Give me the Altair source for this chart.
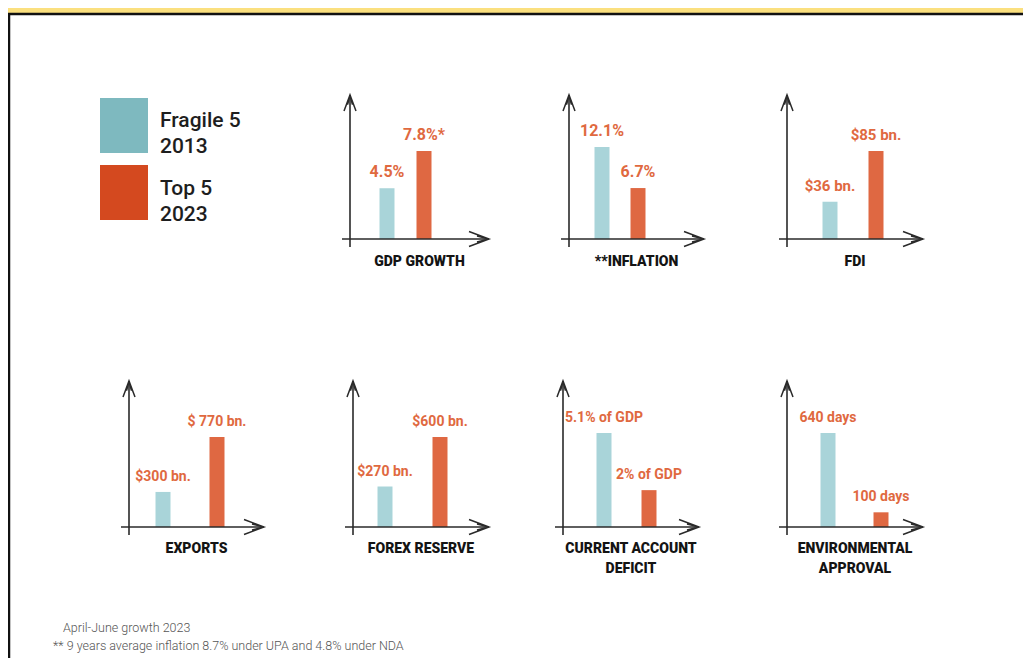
import altair as alt
import pandas as pd

# ---------------- data ----------------
series = ["Fragile 5 2013", "Top 5 2023"]
legend_text = ["Fragile 5\n2013", "Top 5\n2023"]
metrics = ["GDP GROWTH", "**INFLATION", "FDI", "EXPORTS", "FOREX RESERVE",
           "CURRENT ACCOUNT\nDEFICIT", "ENVIRONMENTAL\nAPPROVAL"]
fragile_values = [4.5, 12.1, 36, 300, 270, 5.1, 640]
top_values = [7.8, 6.7, 85, 770, 600, 2, 100]
fragile_labels = ["4.5%", "12.1%", "$36 bn.", "$300 bn.", "$270 bn.", "5.1% of GDP", "640 days"]
top_labels = ["7.8%*", "6.7%", "$85 bn.", "$ 770 bn.", "$600 bn.", "2% of GDP", "100 days"]
footnotes = ["April-June growth 2023",
             "** 9 years average inflation 8.7% under UPA and 4.8% under NDA"]

# ---------------- layout (pixels) ----------------
W, H = 1015, 650
axis_x = [342, 561, 779, 121, 345, 555, 779]
axis_base = [231, 231, 231, 519, 519, 519, 519]
axis_tip = [87, 87, 87, 373, 373, 373, 373]
axis_end = [481, 696, 915, 256, 481, 691, 915]
bar_c1 = [379, 594, 822, 155, 377, 596, 820]
bar_c2 = [416, 630, 868, 209, 432, 641, 873]
bar_hmax = [88, 92, 88, 90, 90, 94, 94]
title_top = [247, 247, 247, 534, 534, 534, 534]
label_size = [16, 16, 15, 14, 14, 14, 14]
foot_x = [55, 45]
foot_y = [620, 638]

# ---------------- style ----------------
BG = "#fbe07f"
AX = "#2a2a2a"
BAR_BLUE, BAR_ORANGE = "#a9d4d9", "#df6842"
LEG_BLUE, LEG_ORANGE = "#7eb9bf", "#d4491f"
LABEL_ORANGE = "#e0693f"
FONT = "Roboto"

RIGHT_HEAD = "M-1,-0.75L1,0L-1,0.75M-0.2,-0.3L1,0L-0.2,0.3"
UP_HEAD = "M-0.75,1L0,-1L0.75,1M-0.3,0.2L0,-1L0.3,0.2"

one = pd.DataFrame({"k": [0]})

frame = alt.Chart(one).mark_rect(fill="white", stroke="#111111", strokeWidth=2.5).encode(
    x=alt.value(1), x2=alt.value(W + 30), y=alt.value(6), y2=alt.value(H + 30)
)

# legend
leg_df = pd.DataFrame({"series": series, "text": legend_text})
leg_y = alt.Y("series:N", scale=alt.Scale(domain=series, range=[90, 212],
                                          paddingInner=0.18, paddingOuter=0), axis=None)
leg_rect = alt.Chart(leg_df).mark_rect().encode(
    x=alt.value(92), x2=alt.value(140), y=leg_y,
    color=alt.Color("series:N", scale=alt.Scale(domain=series, range=[LEG_BLUE, LEG_ORANGE]), legend=None),
)
leg_text = alt.Chart(leg_df).mark_text(
    align="left", baseline="middle", lineBreak="\n", lineHeight=26, dy=-4,
    font=FONT, fontSize=21, fontWeight=500, color="#1e1e1e",
).encode(x=alt.value(152), y=leg_y, text="text:N")
legend = alt.layer(leg_rect, leg_text)

# axes (decorative arrows)
ax_df = pd.DataFrame({
    "ax": axis_x, "base": axis_base, "tip": axis_tip, "end": axis_end,
})
ax_df["ax_start"] = ax_df["ax"] - 8
ax_df["base_low"] = ax_df["base"] + 8
ax_df["head_x"] = ax_df["end"] - 10
ax_df["head_y"] = ax_df["tip"] + 8
ax_df["title_x"] = (ax_df["ax"] + ax_df["end"]) / 2
ax_df["title_y"] = title_top
ax_df["title"] = metrics

x_lines = alt.Chart(ax_df).mark_rule(color=AX, strokeWidth=1.6).encode(
    x=alt.X("ax_start:Q", scale=None), x2="end:Q", y=alt.Y("base:Q", scale=None)
)
y_lines = alt.Chart(ax_df).mark_rule(color=AX, strokeWidth=1.6).encode(
    x=alt.X("ax:Q", scale=None), y=alt.Y("base_low:Q", scale=None), y2="tip:Q"
)
right_heads = alt.Chart(ax_df).mark_point(
    shape=RIGHT_HEAD, size=400, filled=False, stroke=AX, strokeWidth=1.5, opacity=1
).encode(x=alt.X("head_x:Q", scale=None), y=alt.Y("base:Q", scale=None))
up_heads = alt.Chart(ax_df).mark_point(
    shape=UP_HEAD, size=256, filled=False, stroke=AX, strokeWidth=1.5, opacity=1
).encode(x=alt.X("ax:Q", scale=None), y=alt.Y("head_y:Q", scale=None))
titles = alt.Chart(ax_df).mark_text(
    align="center", baseline="top", lineBreak="\n", lineHeight=20,
    font=FONT, fontSize=14, fontWeight=900, color="#141414",
).encode(x=alt.X("title_x:Q", scale=None), y=alt.Y("title_y:Q", scale=None), text="title:N")

# footnotes
foot_df = pd.DataFrame({"text": footnotes, "x": foot_x, "y": foot_y})
foot = alt.Chart(foot_df).mark_text(
    align="left", baseline="middle", font=FONT, fontSize=12.5, fontWeight=300, color="#555555"
).encode(x=alt.X("x:Q", scale=None), y=alt.Y("y:Q", scale=None), text="text:N")


def panel(i):
    df = pd.DataFrame({
        "series": series,
        "value": [fragile_values[i], top_values[i]],
        "label": [fragile_labels[i], top_labels[i]],
    })
    w = bar_c2[i] - bar_c1[i]
    xs = alt.X("series:N", axis=None, scale=alt.Scale(
        domain=series, range=[bar_c1[i] - w / 2, bar_c2[i] + w / 2], paddingInner=0, paddingOuter=0))
    ys = alt.Y("value:Q", axis=None, scale=alt.Scale(
        domain=[0, max(fragile_values[i], top_values[i])],
        range=[axis_base[i], axis_base[i] - bar_hmax[i]], nice=False, zero=True))
    base = alt.Chart(df).encode(x=xs, y=ys)
    bars = base.mark_bar(width=15).encode(
        color=alt.Color("series:N", legend=None,
                        scale=alt.Scale(domain=series, range=[BAR_BLUE, BAR_ORANGE]))
    )
    labels = base.mark_text(
        align="center", baseline="alphabetic", dy=-11, font=FONT,
        fontSize=label_size[i], fontWeight="bold", color=LABEL_ORANGE,
    ).encode(text="label:N")
    return alt.layer(bars, labels)


panels = [panel(i) for i in range(len(metrics))]

chart = alt.layer(
    frame, legend, *panels, x_lines, y_lines, right_heads, up_heads, titles, foot
).resolve_scale(
    x="independent", y="independent", color="independent"
).properties(
    width=W, height=H, padding=0,
    autosize=alt.AutoSizeParams(type="none"),
).configure(background=BG).configure_view(stroke=None)

chart.save("out.html", embed_options={"renderer": "svg", "actions": False})
